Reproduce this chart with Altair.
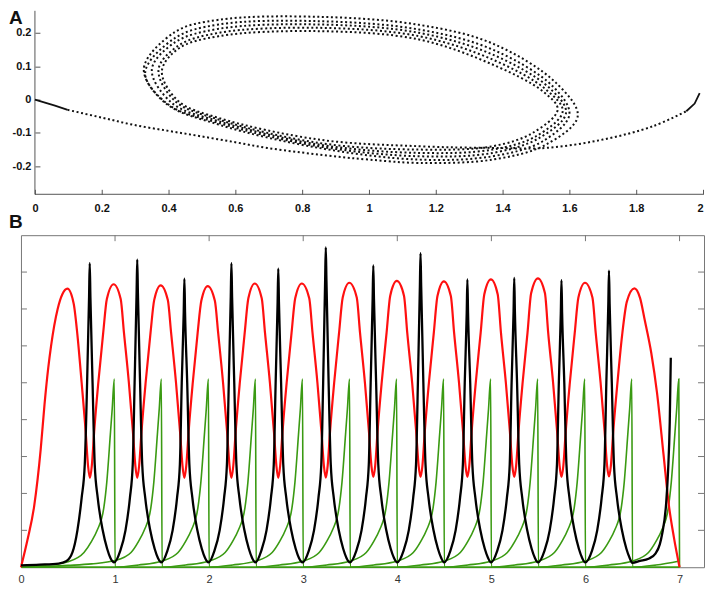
import altair as alt
import pandas as pd

# ---------------- Panel A : phase trajectory (x, y) ----------------
A_START_SOLID = [(0.000, 0.000), (0.030, -0.009), (0.060, -0.018), (0.098, -0.031)]
A_PATH = [
    (0.098, -0.031), (0.200, -0.054), (0.296, -0.076), (0.400, -0.094), (0.496, -0.110),
    (0.600, -0.128), (0.695, -0.145), (0.800, -0.159), (0.894, -0.170), (1.000, -0.180),
    # loop 1
    (1.150, -0.190), (1.370, -0.180), (1.530, -0.135), (1.625, -0.050), (1.560, 0.050),
    (1.370, 0.168), (1.150, 0.224), (0.850, 0.248), (0.550, 0.239), (0.420, 0.203),
    (0.326, 0.093), (0.390, -0.010), (0.550, -0.075), (0.850, -0.145),
    # loop 2
    (1.150, -0.180), (1.370, -0.170), (1.520, -0.125), (1.600, -0.045), (1.550, 0.040),
    (1.370, 0.150), (1.150, 0.210), (0.850, 0.235), (0.550, 0.225), (0.420, 0.185),
    (0.330, 0.080), (0.400, -0.015), (0.550, -0.070), (0.850, -0.140),
    # loop 3
    (1.150, -0.170), (1.370, -0.160), (1.510, -0.115), (1.590, -0.040), (1.540, 0.035),
    (1.370, 0.135), (1.150, 0.200), (0.850, 0.225), (0.550, 0.212), (0.420, 0.172),
    (0.350, 0.090), (0.410, -0.010), (0.550, -0.065), (0.850, -0.135),
    # loop 4
    (1.150, -0.160), (1.370, -0.150), (1.500, -0.110), (1.580, -0.035), (1.530, 0.030),
    (1.370, 0.120), (1.150, 0.190), (0.850, 0.215), (0.550, 0.200), (0.430, 0.162),
    (0.370, 0.090), (0.420, -0.005), (0.550, -0.060), (0.850, -0.130),
    # loop 5
    (1.150, -0.150), (1.370, -0.140), (1.490, -0.100), (1.565, -0.030), (1.520, 0.025),
    (1.370, 0.105), (1.150, 0.180), (0.850, 0.205), (0.550, 0.190), (0.430, 0.153),
    (0.380, 0.085), (0.430, -0.005), (0.550, -0.055), (0.850, -0.120),
    # exit tail
    (1.150, -0.140), (1.370, -0.145), (1.530, -0.145), (1.700, -0.120), (1.850, -0.080),
    (1.950, -0.035),
]
A_END_SOLID = [(1.950, -0.035), (1.975, -0.012), (1.990, 0.019)]

A_XTICKS = [0, 0.2, 0.4, 0.6, 0.8, 1, 1.2, 1.4, 1.6, 1.8, 2]
A_YTICKS = [-0.2, -0.1, 0, 0.1, 0.2]
A_XDOM = [-0.0418, 2.0]
A_YDOM = [-0.284, 0.266]
A_XLINE = [0, 2]

# ---------------- Panel B : time series (t, value) ----------------
RED = [
    (0.000, 0.00), (0.070, 0.75), (0.140, 1.65), (0.210, 3.20), (0.250, 4.40), (0.290, 5.40),
    (0.320, 6.00), (0.390, 7.00), (0.440, 7.40), (0.494, 7.55),
    (0.560, 7.15), (0.600, 6.30), (0.645, 5.00), (0.688, 3.67), (0.713, 2.75), (0.733, 2.42),
    (0.753, 2.75), (0.778, 3.67), (0.822, 5.00), (0.874, 6.35), (0.913, 7.27), (0.985, 7.67),
    (1.060, 7.27), (1.095, 6.35), (1.147, 5.00), (1.190, 3.67), (1.216, 2.75), (1.236, 2.42),
    (1.256, 2.75), (1.281, 3.67), (1.325, 5.00), (1.377, 6.35), (1.416, 7.24), (1.485, 7.64),
    (1.561, 7.24), (1.596, 6.35), (1.648, 5.00), (1.691, 3.67), (1.717, 2.75), (1.737, 2.42),
    (1.757, 2.75), (1.782, 3.67), (1.826, 5.00), (1.878, 6.35), (1.917, 7.22), (1.985, 7.62),
    (2.061, 7.22), (2.096, 6.35), (2.148, 5.00), (2.191, 3.67), (2.217, 2.75), (2.237, 2.42),
    (2.257, 2.75), (2.282, 3.67), (2.326, 5.00), (2.378, 6.35), (2.417, 7.29), (2.485, 7.69),
    (2.559, 7.29), (2.594, 6.35), (2.646, 5.00), (2.689, 3.67), (2.715, 2.75), (2.735, 2.42),
    (2.755, 2.75), (2.780, 3.67), (2.824, 5.00), (2.876, 6.35), (2.915, 7.29), (2.985, 7.69),
    (3.064, 7.29), (3.099, 6.35), (3.151, 5.00), (3.194, 3.67), (3.220, 2.75), (3.240, 2.43),
    (3.260, 2.75), (3.285, 3.67), (3.329, 5.00), (3.381, 6.35), (3.420, 7.31), (3.490, 7.71),
    (3.569, 7.31), (3.604, 6.35), (3.656, 5.00), (3.699, 3.67), (3.725, 2.75), (3.745, 2.45),
    (3.765, 2.75), (3.790, 3.67), (3.834, 5.00), (3.886, 6.35), (3.925, 7.36), (3.995, 7.76),
    (4.071, 7.36), (4.106, 6.35), (4.158, 5.00), (4.201, 3.67), (4.227, 2.75), (4.247, 2.45),
    (4.267, 2.75), (4.292, 3.67), (4.336, 5.00), (4.388, 6.35), (4.427, 7.35), (4.495, 7.75),
    (4.569, 7.35), (4.604, 6.35), (4.656, 5.00), (4.699, 3.67), (4.725, 2.75), (4.745, 2.45),
    (4.765, 2.75), (4.790, 3.67), (4.834, 5.00), (4.886, 6.35), (4.925, 7.40), (4.995, 7.80),
    (5.067, 7.40), (5.102, 6.35), (5.154, 5.00), (5.197, 3.67), (5.223, 2.75), (5.243, 2.45),
    (5.263, 2.75), (5.288, 3.67), (5.332, 5.00), (5.384, 6.35), (5.423, 7.43), (5.495, 7.83),
    (5.569, 7.43), (5.604, 6.35), (5.656, 5.00), (5.699, 3.67), (5.725, 2.75), (5.745, 2.45),
    (5.765, 2.75), (5.790, 3.67), (5.834, 5.00), (5.886, 6.35), (5.925, 7.31), (5.995, 7.71),
    (6.074, 7.31), (6.109, 6.35), (6.161, 5.00), (6.204, 3.67), (6.230, 2.75), (6.250, 2.46),
    (6.270, 2.75), (6.295, 3.67), (6.340, 5.00), (6.390, 6.30), (6.440, 7.20), (6.520, 7.56),
    (6.580, 7.30), (6.630, 6.70), (6.700, 5.80), (6.760, 4.74), (6.830, 3.05), (6.885, 1.71),
    (6.940, 0.81), (7.000, 0.00),
]

BLACK = [
    (0.000, 0.05), (0.200, 0.07), (0.400, 0.10), (0.480, 0.16), (0.547, 0.40), (0.600, 1.00),
    (0.645, 1.88), (0.678, 2.78), (0.703, 5.00), (0.724, 7.34), (0.731, 8.24), (0.738, 7.34),
    (0.761, 5.00), (0.784, 2.78), (0.816, 1.88), (0.869, 1.00), (0.916, 0.50), (0.951, 0.25), (0.990, 0.13),
    (1.056, 0.45), (1.111, 1.00), (1.158, 1.88), (1.188, 2.78), (1.208, 5.00), (1.229, 7.44), (1.236, 8.34),
    (1.243, 7.44), (1.266, 5.00), (1.289, 2.78), (1.321, 1.88), (1.374, 1.00), (1.421, 0.50), (1.456, 0.25), (1.492, 0.13),
    (1.557, 0.45), (1.612, 1.00), (1.659, 1.88), (1.689, 2.78), (1.709, 5.00), (1.730, 6.92), (1.737, 7.82),
    (1.744, 6.92), (1.767, 5.00), (1.790, 2.78), (1.822, 1.88), (1.875, 1.00), (1.922, 0.50), (1.957, 0.25), (1.993, 0.13),
    (2.057, 0.45), (2.112, 1.00), (2.159, 1.88), (2.189, 2.78), (2.209, 5.00), (2.230, 7.34), (2.237, 8.24),
    (2.244, 7.34), (2.267, 5.00), (2.290, 2.78), (2.322, 1.88), (2.375, 1.00), (2.422, 0.50), (2.457, 0.25), (2.492, 0.13),
    (2.555, 0.45), (2.610, 1.00), (2.657, 1.88), (2.687, 2.78), (2.707, 5.00), (2.728, 7.19), (2.735, 8.09),
    (2.742, 7.19), (2.765, 5.00), (2.788, 2.78), (2.820, 1.88), (2.873, 1.00), (2.920, 0.50), (2.955, 0.25), (2.992, 0.13),
    (3.060, 0.45), (3.115, 1.00), (3.162, 1.88), (3.192, 2.78), (3.212, 5.00), (3.233, 7.77), (3.240, 8.67),
    (3.247, 7.77), (3.270, 5.00), (3.293, 2.78), (3.325, 1.88), (3.378, 1.00), (3.425, 0.50), (3.460, 0.25), (3.495, 0.13),
    (3.565, 0.45), (3.620, 1.00), (3.667, 1.88), (3.697, 2.78), (3.717, 5.00), (3.738, 7.28), (3.745, 8.18),
    (3.752, 7.28), (3.775, 5.00), (3.798, 2.78), (3.830, 1.88), (3.883, 1.00), (3.930, 0.50), (3.965, 0.25), (3.998, 0.13),
    (4.067, 0.45), (4.122, 1.00), (4.169, 1.88), (4.199, 2.78), (4.219, 5.00), (4.240, 7.61), (4.247, 8.51),
    (4.254, 7.61), (4.277, 5.00), (4.300, 2.78), (4.332, 1.88), (4.385, 1.00), (4.432, 0.50), (4.467, 0.25), (4.497, 0.13),
    (4.565, 0.45), (4.620, 1.00), (4.667, 1.88), (4.697, 2.78), (4.717, 5.00), (4.738, 6.90), (4.745, 7.80),
    (4.752, 6.90), (4.775, 5.00), (4.798, 2.78), (4.830, 1.88), (4.883, 1.00), (4.930, 0.50), (4.965, 0.25), (4.995, 0.13),
    (5.063, 0.45), (5.118, 1.00), (5.165, 1.88), (5.195, 2.78), (5.215, 5.00), (5.236, 6.94), (5.243, 7.84),
    (5.250, 6.94), (5.273, 5.00), (5.296, 2.78), (5.328, 1.88), (5.381, 1.00), (5.428, 0.50), (5.463, 0.25), (5.495, 0.13),
    (5.565, 0.45), (5.620, 1.00), (5.667, 1.88), (5.697, 2.78), (5.717, 5.00), (5.738, 6.88), (5.745, 7.78),
    (5.752, 6.88), (5.775, 5.00), (5.798, 2.78), (5.830, 1.88), (5.883, 1.00), (5.930, 0.50), (5.965, 0.25), (5.997, 0.13),
    (6.070, 0.45), (6.125, 1.00), (6.172, 1.88), (6.202, 2.78), (6.222, 5.00), (6.243, 7.14), (6.250, 8.04),
    (6.257, 7.14), (6.280, 5.00), (6.303, 2.78), (6.335, 1.88), (6.388, 1.00), (6.435, 0.50), (6.470, 0.25), (6.497, 0.12),
    (6.580, 0.17), (6.670, 0.23), (6.744, 0.37), (6.790, 0.62), (6.815, 0.90), (6.857, 1.71), (6.878, 2.60),
    (6.896, 3.94), (6.907, 5.68),
]

GREEN_A = [
    (0.000, 0.00), (0.250, 0.05), (0.500, 0.15), (0.670, 0.40), (0.750, 0.70), (0.810, 1.00), (0.880, 1.60),
    (0.912, 2.30), (0.950, 3.60), (0.970, 4.30), (0.992, 5.10), (1.000, 0.00),
    (1.250, 0.06), (1.500, 0.17), (1.670, 0.40), (1.750, 0.70), (1.810, 1.00), (1.880, 1.60),
    (1.912, 2.30), (1.950, 3.60), (1.970, 4.30), (1.992, 5.10), (2.000, 0.00),
    (2.250, 0.06), (2.500, 0.17), (2.670, 0.40), (2.750, 0.70), (2.810, 1.00), (2.880, 1.60),
    (2.912, 2.30), (2.950, 3.60), (2.970, 4.30), (2.992, 5.10), (3.000, 0.00),
    (3.250, 0.06), (3.500, 0.17), (3.670, 0.40), (3.750, 0.70), (3.810, 1.00), (3.880, 1.60),
    (3.912, 2.30), (3.950, 3.60), (3.970, 4.30), (3.992, 5.10), (4.000, 0.00),
    (4.250, 0.06), (4.500, 0.17), (4.670, 0.40), (4.750, 0.70), (4.810, 1.00), (4.880, 1.60),
    (4.912, 2.30), (4.950, 3.60), (4.970, 4.30), (4.992, 5.10), (5.000, 0.00),
    (5.250, 0.06), (5.500, 0.17), (5.670, 0.40), (5.750, 0.70), (5.810, 1.00), (5.880, 1.60),
    (5.912, 2.30), (5.950, 3.60), (5.970, 4.30), (5.992, 5.10), (6.000, 0.00),
    (6.250, 0.06), (6.500, 0.17), (6.670, 0.40), (6.750, 0.70), (6.810, 1.00), (6.880, 1.60),
    (6.912, 2.30), (6.950, 3.60), (6.970, 4.30), (6.992, 5.10), (7.000, 0.00),
]

GREEN_B = [
    (0.000, 0.00), (0.500, 0.05), (0.750, 0.09), (1.000, 0.18), (1.170, 0.40), (1.250, 0.70), (1.310, 1.00),
    (1.380, 1.60), (1.412, 2.30), (1.450, 3.60), (1.470, 4.30), (1.492, 5.10), (1.500, 0.00),
    (1.750, 0.06), (2.000, 0.17), (2.170, 0.40), (2.250, 0.70), (2.310, 1.00), (2.380, 1.60),
    (2.412, 2.30), (2.450, 3.60), (2.470, 4.30), (2.492, 5.10), (2.500, 0.00),
    (2.750, 0.06), (3.000, 0.17), (3.170, 0.40), (3.250, 0.70), (3.310, 1.00), (3.380, 1.60),
    (3.412, 2.30), (3.450, 3.60), (3.470, 4.30), (3.492, 5.10), (3.500, 0.00),
    (3.750, 0.06), (4.000, 0.17), (4.170, 0.40), (4.250, 0.70), (4.310, 1.00), (4.380, 1.60),
    (4.412, 2.30), (4.450, 3.60), (4.470, 4.30), (4.492, 5.10), (4.500, 0.00),
    (4.750, 0.06), (5.000, 0.17), (5.170, 0.40), (5.250, 0.70), (5.310, 1.00), (5.380, 1.60),
    (5.412, 2.30), (5.450, 3.60), (5.470, 4.30), (5.492, 5.10), (5.500, 0.00),
    (5.750, 0.06), (6.000, 0.17), (6.170, 0.40), (6.250, 0.70), (6.310, 1.00), (6.380, 1.60),
    (6.412, 2.30), (6.450, 3.60), (6.470, 4.30), (6.492, 5.10), (6.500, 0.00),
    (6.750, 0.06), (7.000, 0.17),
]

GREEN_BASE = [(0.000, 0.00), (7.000, 0.00)]

B_XLABELS = [0, 1, 2, 3, 4, 5, 6, 7]
B_XTICKS = [1, 2, 3, 4, 5, 6, 7]
B_YTICKS = [1, 2, 3, 4, 5, 6, 7, 8]
B_XDOM = [0, 7.26]
B_YDOM = [0, 9]

# ---------------- helpers ----------------
def xy_df(pts):
    return pd.DataFrame({"x": [p[0] for p in pts], "y": [p[1] for p in pts], "i": list(range(len(pts)))})

def tv_df(pts):
    return pd.DataFrame({"t": [p[0] for p in pts], "v": [p[1] for p in pts]})

FONT = "Liberation Sans"
A_W, A_H = 684, 184
B_W, B_H = 685, 333

# ---------------- Panel A ----------------
sxA = alt.Scale(domain=A_XDOM, nice=False, zero=False)
syA = alt.Scale(domain=A_YDOM, nice=False, zero=False)
axAx = alt.Axis(values=A_XTICKS, labelExpr="'' + datum.value", domain=False, grid=False,
                tickSize=5, tickColor="#555555", tickWidth=1, offset=-5, labelPadding=8,
                labelFlush=True, labelFont=FONT, labelFontSize=11, labelFontWeight="bold",
                labelColor="#111111", title=None)
axAy = alt.Axis(values=A_YTICKS, labelExpr="'' + datum.value", domain=False, grid=False,
                tickSize=5, tickColor="#555555", tickWidth=1, offset=-19, labelPadding=4,
                labelFlush=False, labelFont=FONT, labelFontSize=11, labelFontWeight="bold",
                labelColor="#111111", title=None)
XA = alt.X("x:Q", scale=sxA, axis=axAx)
YA = alt.Y("y:Q", scale=syA, axis=axAy)

a_path = alt.Chart(xy_df(A_PATH)).mark_line(
    interpolate="catmull-rom", color="#111111", strokeWidth=2.0, strokeDash=[2.0, 2.6], strokeCap="butt"
).encode(x=XA, y=YA, order="i:Q")
a_start = alt.Chart(xy_df(A_START_SOLID)).mark_line(color="#111111", strokeWidth=1.8).encode(x=XA, y=YA, order="i:Q")
a_end = alt.Chart(xy_df(A_END_SOLID)).mark_line(color="#111111", strokeWidth=1.8).encode(x=XA, y=YA, order="i:Q")

a_vline = alt.Chart(pd.DataFrame({"x": [0], "y": [A_YDOM[0]], "y2": [A_YDOM[1]]})).mark_rule(
    color="#555555", strokeWidth=1).encode(x=XA, y=YA, y2="y2:Q")
a_hline = alt.Chart(pd.DataFrame({"x": [A_XLINE[0]], "x2": [A_XLINE[1]], "y": [A_YDOM[0]]})).mark_rule(
    color="#555555", strokeWidth=1).encode(x=XA, x2="x2:Q", y=YA)
a_title = alt.Chart(pd.DataFrame({"label": ["A"]})).mark_text(
    align="left", baseline="top", fontSize=19, fontWeight="bold", font=FONT, color="#111111"
).encode(x=alt.value(-12), y=alt.value(-2), text="label:N")

panelA = alt.layer(a_vline, a_hline, a_path, a_start, a_end, a_title).properties(
    width=A_W, height=A_H, view=alt.ViewBackground(strokeOpacity=0))

# ---------------- Panel B ----------------
sxB = alt.Scale(domain=B_XDOM, nice=False, zero=False)
syB = alt.Scale(domain=B_YDOM, nice=False, zero=False)
axBx = alt.Axis(values=B_XLABELS, format="d", ticks=False, domain=False, grid=False,
                labelPadding=6, labelFlush=False, labelFont=FONT, labelFontSize=11,
                labelColor="#333333", title=None)
XB = alt.X("t:Q", scale=sxB, axis=axBx)
YB = alt.Y("v:Q", scale=syB, axis=None)

def series(pts, color, width):
    return alt.Chart(tv_df(pts)).mark_line(interpolate="monotone", color=color, strokeWidth=width).encode(x=XB, y=YB)

GREEN = "#3a9a12"
b_gbase = series(GREEN_BASE, GREEN, 1.8)
b_ga = series(GREEN_A, GREEN, 1.6)
b_gb = series(GREEN_B, GREEN, 1.6)
b_red = series(RED, "#ff1010", 2.2)
b_black = series(BLACK, "#000000", 2.3)

TICK = "#777777"
b_tl = alt.Chart(pd.DataFrame({"v": B_YTICKS})).mark_rule(color=TICK, strokeWidth=1).encode(
    y=YB, x=alt.value(0), x2=alt.value(6))
b_tr = alt.Chart(pd.DataFrame({"v": B_YTICKS})).mark_rule(color=TICK, strokeWidth=1).encode(
    y=YB, x=alt.value(B_W - 6), x2=alt.value(B_W))
b_tt = alt.Chart(pd.DataFrame({"t": B_XTICKS})).mark_rule(color=TICK, strokeWidth=1).encode(
    x=XB, y=alt.value(0), y2=alt.value(6))
b_title = alt.Chart(pd.DataFrame({"label": ["B"]})).mark_text(
    align="left", baseline="top", fontSize=19, fontWeight="bold", font=FONT, color="#111111"
).encode(x=alt.value(-12), y=alt.value(-22), text="label:N")

panelB = alt.layer(b_gbase, b_ga, b_gb, b_red, b_black, b_tl, b_tr, b_tt, b_title).properties(
    width=B_W, height=B_H, view=alt.ViewBackground(stroke="#777777", strokeWidth=1))

chart = alt.vconcat(panelA, panelB, spacing=41, bounds="flush").properties(
    padding={"left": 0, "top": 0, "right": 0, "bottom": 0}
).configure(font=FONT)

chart.save("out.html", embed_options={"renderer": "svg", "actions": False})
